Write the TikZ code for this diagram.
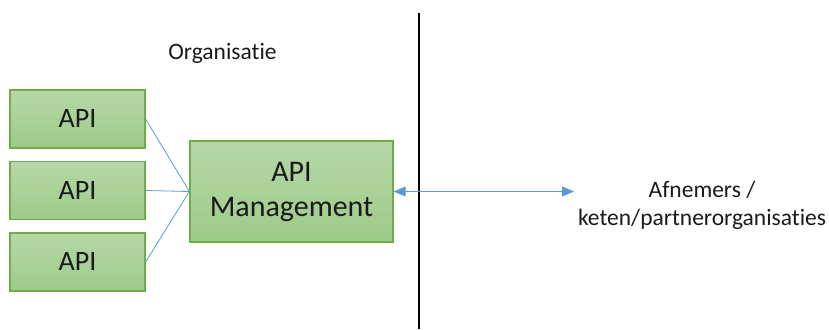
\documentclass[tikz,border=0pt]{standalone}
\usepackage{fontspec}
\setmainfont{Carlito}[Ligatures=NoCommon]
\usetikzlibrary{arrows.meta}
\definecolor{boxedge}{HTML}{70AD47}
\definecolor{boxtop}{HTML}{B7D7A9}
\definecolor{boxbot}{HTML}{9DCB88}
\definecolor{link}{HTML}{5B9BD5}
\definecolor{ink}{HTML}{1A1A1A}
\tikzset{
  apibox/.style={draw=boxedge, line width=1.2pt, top color=boxtop, bottom color=boxbot,
    minimum width=135pt, minimum height=58pt, inner sep=0pt,
    font=\fontsize{28}{33}\selectfont, text=ink},
  mgmtbox/.style={apibox, minimum width=203pt, minimum height=101pt, align=center,
    font=\fontsize{30}{35}\selectfont},
  label/.style={font=\fontsize{23.5}{28}\selectfont, text=ink, align=center},
  link/.style={draw=link, line width=0.8pt},
  bothway/.style={link, {Triangle[length=12pt,width=10pt]}-{Triangle[length=12pt,width=10pt]}},
  divider/.style={draw=black, line width=2pt}
}
\begin{document}
\begin{tikzpicture}[x=1pt, y=-1pt]
  \useasboundingbox (0,0) rectangle (829,329);

  % internal APIs
  \node[apibox] (api1) at (77.5,119) {API};
  \node[apibox] (api2) at (77.5,190.5) {API};
  \node[apibox] (api3) at (77.5,262) {API};

  % gateway
  \node[mgmtbox] (mgmt) at (291.5,191.5) {API\\Management};

  \node[label] (org) at (222.5,53) {Organisatie};
  \node[label] (ext) at (702,205) {Afnemers /\\keten/partnerorganisaties};

  % organisation boundary
  \coordinate (divtop) at (418.5,13);
  \coordinate (divbot) at (418.5,329);
  \draw[divider] (divtop) -- (divbot);

  % API links into the gateway
  \draw[link] (api1.east) -- (mgmt.west);
  \draw[link] (api2.east) -- (mgmt.west);
  \draw[link] (api3.east) -- (mgmt.west);

  % exchange with external parties
  \coordinate (extend) at (574,191.5);
  \draw[bothway] (mgmt.east) -- (extend);
\end{tikzpicture}
\end{document}
